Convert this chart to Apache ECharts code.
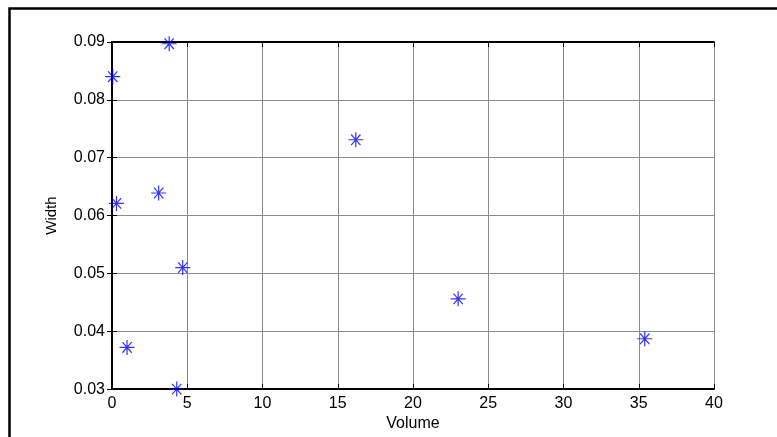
<!DOCTYPE html>
<html>
<head>
<meta charset="utf-8">
<style>
  html, body { margin: 0; padding: 0; background: #fff; }
  #chart { width: 777px; height: 437px; }
</style>
<script src="https://cdn.jsdelivr.net/npm/echarts@6.0.0/dist/echarts.min.js"></script>
</head>
<body>
<div id="chart"></div>
<script>
  // scatter values
  var volume = [0.05, 3.8, 0.3, 3.1, 4.7, 1.0, 4.3, 16.2, 23.0, 35.4];
  var width = [0.0840, 0.0897, 0.0621, 0.0639, 0.0510, 0.0372, 0.0300, 0.0731, 0.0456, 0.0387];

  var X_NAME = 'Volume';
  var Y_NAME = 'Width';

  var FONT = 'Liberation Sans';
  var STAR = 'path://M0,5 L10,5 M5,0.6 L5,9.4 M1.9,1.9 L8.1,8.1 M1.9,8.1 L8.1,1.9';

  var points = volume.map(function (v, i) { return [v, width[i]]; });

  var chart = echarts.init(document.getElementById('chart'));

  function boxAxis(extra) {
    var base = {
      type: 'value',
      axisLine: { show: true, lineStyle: { color: '#000', width: 1.8 } },
      axisTick: { show: true, inside: true, length: 5, lineStyle: { color: '#000', width: 1 } },
      splitLine: { show: false },
      axisLabel: { show: false }
    };
    for (var k in extra) base[k] = extra[k];
    return base;
  }

  chart.setOption({
    animation: false,
    backgroundColor: '#fff',
    grid: { left: 112, right: 63, top: 42, bottom: 46 },
    graphic: [{
      type: 'rect',
      shape: { x: 9.5, y: 8.5, width: 820, height: 480 },
      style: { fill: 'none', stroke: '#000', lineWidth: 2.5 },
      silent: true
    }],
    xAxis: [
      boxAxis({
        min: 0, max: 40, interval: 5,
        name: X_NAME, nameLocation: 'middle', nameGap: 19,
        nameTextStyle: { fontFamily: FONT, fontSize: 16, color: '#000' },
        axisLabel: { show: true, margin: 6, fontFamily: FONT, fontSize: 16, color: '#000' },
        splitLine: { show: true, lineStyle: { color: '#8c8c8c', width: 1 } }
      }),
      boxAxis({ min: 0, max: 40, interval: 5, position: 'top' })
    ],
    yAxis: [
      boxAxis({
        min: 0.03, max: 0.09, interval: 0.01,
        name: Y_NAME, nameLocation: 'middle', nameGap: 53,
        nameTextStyle: { fontFamily: FONT, fontSize: 15, color: '#000' },
        axisLabel: {
          show: true, margin: 7, fontFamily: FONT, fontSize: 16, color: '#000',
          formatter: function (v) { return v.toFixed(2); }
        },
        splitLine: { show: true, lineStyle: { color: '#8c8c8c', width: 1 } }
      }),
      boxAxis({ min: 0.03, max: 0.09, interval: 0.01, position: 'right' })
    ],
    series: [{
      type: 'scatter',
      data: points,
      symbol: STAR,
      symbolSize: 15,
      itemStyle: { color: 'rgba(0,0,0,0)', borderColor: '#0000ff', borderWidth: 1.2 },
      clip: false
    }]
  });
</script>
</body>
</html>
